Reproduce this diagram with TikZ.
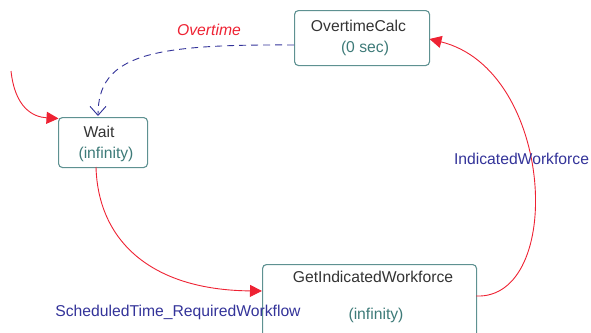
\documentclass[tikz,border=0pt]{standalone}
\usepackage{fontspec}
\setmainfont{Liberation Sans}
\usetikzlibrary{arrows.meta}

\definecolor{boxline}{HTML}{5E9191}
\definecolor{boxtext}{HTML}{333333}
\definecolor{durtext}{HTML}{3D7A78}
\definecolor{flowred}{HTML}{EE2233}
\definecolor{flowblue}{HTML}{333399}

\tikzset{
  statebox/.style={draw=boxline, line width=1.1pt, rounded corners=4pt,
    inner sep=0pt, anchor=north west},
  txt/.style={font=\fontsize{15.7}{18}\selectfont, inner sep=0pt, anchor=base},
  nametxt/.style={txt, text=boxtext},
  durtxt/.style={txt, text=durtext},
  redlbl/.style={txt, text=flowred, font=\fontsize{15.7}{18}\selectfont\itshape},
  bluelbl/.style={txt, text=flowblue},
  redflow/.style={draw=flowred, line width=0.9pt,
    -{Triangle[length=12pt,width=12pt]}, shorten >=0pt},
  blueflow/.style={draw=flowblue, line width=0.9pt, dash pattern=on 7pt off 5pt,
    -{Straight Barb[length=9pt,width=16pt]}},
}

\begin{document}
\begin{tikzpicture}[x=1pt, y=-1pt]
  \useasboundingbox (0,0) rectangle (591,332);
  \clip (0,0) rectangle (591,332);

  % state boxes
  \node[statebox, minimum width=89pt, minimum height=50pt] (wait) at (58,117) {};
  \node[statebox, minimum width=135pt, minimum height=55pt] (calc) at (294,10) {};
  \node[statebox, minimum width=214pt, minimum height=80pt] (get) at (262,264) {};

  % box texts
  \node[nametxt] (waitname) at (99,137) {Wait};
  \node[durtxt] (waitdur) at (106,158.5) {(infinity)};
  \node[nametxt] (calcname) at (358.5,31) {OvertimeCalc};
  \node[durtxt] (calcdur) at (365,52) {(0 sec)};
  \node[nametxt] (getname) at (373,282) {GetIndicatedWorkforce};
  \node[durtxt] (getdur) at (376,319) {(infinity)};

  % connector end points
  \coordinate (entry) at (11,71);
  \coordinate (waitin) at (58.5,118.5);
  \coordinate (waitbot) at (96,167);
  \coordinate (getin) at (262,291);
  \coordinate (getout) at (476,296);
  \coordinate (calcin) at (429.5,39);
  \coordinate (calcout) at (294,45);
  \coordinate (waittop) at (98,116);

  % transitions
  \draw[redflow] (entry) .. controls (15,108) and (33,117) .. (waitin);
  \draw[redflow] (waitbot) .. controls (98,240) and (150,290) .. (getin);
  \draw[redflow] (getout) .. controls (565,300) and (555,70) .. (calcin);
  \draw[blueflow] (calcout) .. controls (150,44) and (98,55) .. (waittop);

  % transition labels
  \node[redlbl] (lblovertime) at (209,35) {Overtime};
  \node[bluelbl] (lblindicated) at (521.5,164) {IndicatedWorkforce};
  \node[bluelbl] (lblscheduled) at (178,316) {ScheduledTime\_RequiredWorkflow};
\end{tikzpicture}
\end{document}
